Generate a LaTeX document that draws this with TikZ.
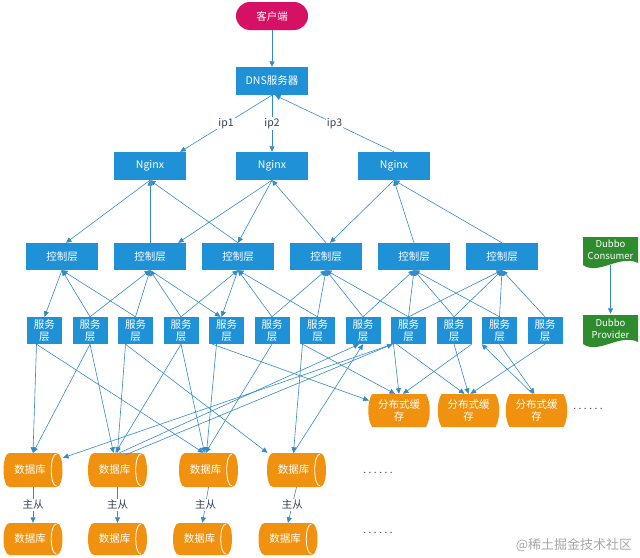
\documentclass[tikz,border=0pt]{standalone}
\usepackage{fontspec}
\newfontfamily\cjk{Noto Sans CJK SC}
\usetikzlibrary{arrows.meta,calc}
\definecolor{nodeblue}{RGB}{30,145,215}
\definecolor{lineblue}{RGB}{50,138,200}
\definecolor{pinkc}{RGB}{214,16,100}
\definecolor{dgreen}{RGB}{46,140,46}
\definecolor{orng}{RGB}{240,146,16}
\definecolor{lbltext}{RGB}{55,65,85}
\newcommand{\dbshape}[3]{% x, y, half height
  \fill[orng] ({#1-23.5},{#2-#3}) -- ({#1+23.5},{#2-#3})
     .. controls ({#1+31.5},{#2-#3}) and ({#1+31.5},{#2+#3}) .. ({#1+23.5},{#2+#3})
     -- ({#1-23.5},{#2+#3})
     .. controls ({#1-31.5},{#2+#3}) and ({#1-31.5},{#2-#3}) .. ({#1-23.5},{#2-#3}) -- cycle;
  \draw[white,line width=0.8pt] ({#1+23.5},{#2-#3+1})
     .. controls ({#1+16.5},{#2-#3+1}) and ({#1+16.5},{#2+#3-1}) .. ({#1+23.5},{#2+#3-1});
}
\begin{document}
\begin{tikzpicture}[x=1pt,y=-1pt,
  every node/.style={font=\cjk\fontsize{10.5}{12.5}\selectfont},
  bluebox/.style={fill=nodeblue,text=white,minimum width=72pt,minimum height=28pt,inner sep=0pt},
  ctrlbox/.style={bluebox,minimum height=27pt},
  svcbox/.style={fill=nodeblue,text=white,minimum width=35pt,minimum height=27pt,inner sep=0pt,align=center,font=\cjk\fontsize{10.5}{11.5}\selectfont},
  dbnode/.style={text=white,minimum width=59pt,minimum height=34pt,inner sep=0pt},
  cachenode/.style={text=white,minimum width=54pt,minimum height=33pt,inner sep=0pt,align=center,font=\cjk\fontsize{10.5}{12.5}\selectfont},
  dubbonode/.style={text=white,minimum width=55pt,minimum height=30pt,inner sep=0pt,align=center,font=\cjk\fontsize{9.5}{12}\selectfont},
  lbl/.style={fill=white,text=lbltext,inner sep=1pt},
  dotlbl/.style={text=lbltext,font=\cjk\fontsize{10}{12}\selectfont\addfontfeature{LetterSpace=25}},
  edge/.style={draw=lineblue,line width=0.6pt,-{Triangle[length=5.5pt,width=5pt]}}
]
\useasboundingbox (0,0) rectangle (640,557);

% top nodes
\node[fill=pinkc,text=white,minimum width=72pt,minimum height=28pt,inner sep=0pt,rounded corners=14pt] (cl) at (272,16) {客户端};
\node[bluebox] (dns) at (272,81) {DNS服务器};
\node[bluebox] (ng1) at (150,166) {Nginx};
\node[bluebox] (ng2) at (272,166) {Nginx};
\node[bluebox] (ng3) at (394,166) {Nginx};

% control layer
\foreach \i/\x in {1/62,2/150,3/238,4/326,5/414,6/502}
  \node[ctrlbox] (c\i) at (\x,256.5) {控制层};

% service layer
\foreach \i/\x in {1/44.5,2/90,3/135.5,4/181,5/226.5,6/272,7/317.5,8/363,9/408.5,10/454,11/499.5,12/545}
  \node[svcbox] (s\i) at (\x,330.5) {服务\\层};

% caches
\foreach \i/\x in {1/399,2/468.5,3/536.5}{
  \fill[orng] ({\x-27},394) .. controls ({\x-32},402) and ({\x-32},419) .. ({\x-27},427)
     -- ({\x+27},427) .. controls ({\x+32},419) and ({\x+32},402) .. ({\x+27},394) -- cycle;
  \node[cachenode] (k\i) at (\x,410.5) {分布式缓\\存};
}

% databases
\foreach \i/\x in {1/33,2/117.5,3/208.5,4/296.5}{
  \dbshape{\x}{470}{17}
  \node[dbnode] (d\i) at (\x,470) {\hspace*{-6pt}数据库};
}
\foreach \i/\x in {1/33,2/117.5,3/202.5,4/288}{
  \dbshape{\x}{539}{16}
  \node[dbnode,minimum height=32pt] (e\i) at (\x,539) {\hspace*{-6pt}数据库};
}

% dubbo
\fill[dgreen] (583,237) -- (583,265) .. controls (598,276) and (620,254) .. (638,263) -- (638,237) -- cycle;
\node[dubbonode] (dc) at (610.5,250) {Dubbo\\Consumer};
\fill[dgreen] (583,315) -- (583,344) .. controls (598,355) and (620,333) .. (638,342) -- (638,315) -- cycle;
\node[dubbonode] (dp) at (610.5,329) {Dubbo\\Provider};
\draw[edge] (dc.south) -- (dp.north);

% dots and watermark
\node[dotlbl] (dt1) at (588,409) {......};
\node[dotlbl] (dt2) at (378,473) {......};
\node[dotlbl] (dt3) at (378,533) {......};
\node[text=black!35,font=\cjk\fontsize{13}{15}\selectfont] (wm) at (574,545) {@稀土掘金技术社区};

% top edges
\draw[edge] (cl.south) -- (dns.north);
\draw[edge] (dns.south) -- node[lbl]{ip1} ($(ng1.north east)+(-6,0)$);
\draw[edge] (dns.south) -- node[lbl]{ip2} (ng2.north);
\draw[edge] (ng3.north) -- node[lbl]{ip3} ($(dns.south)+(3,0)$);

% nginx - control
\draw[edge] (ng1.south) -- ($(c1.north)+(4,0)$);
\draw[edge] (c2.north) -- (ng1.south);
\draw[edge] (c3.north) -- (ng1.south);
\draw[edge] (ng2.south) -- ($(c2.north east)+(-8,0)$);
\draw[edge] (ng2.south) -- (c3.north);
\draw[edge] (c4.north) -- (ng2.south);
\draw[edge] (ng3.south) -- ($(c4.north)+(4,0)$);
\draw[edge] (c5.north) -- (ng3.south);
\draw[edge] (c6.north) -- (ng3.south);

% control - service
\foreach \sv/\cv in {s2/c1,s3/c1,s2/c2,s3/c2,s4/c2,s4/c3,s6/c3,s7/c3,s6/c4,s7/c4,s8/c4,s9/c4,s8/c5,s9/c5,s10/c5,s11/c5,s9/c6,s10/c6,s11/c6,s12/c6}
  \draw[edge] (\sv.north) -- (\cv.south);
\draw[edge] (c1.south) -- (s1.north);
\draw[edge] (c2.south) -- ($(s5.north)+(-6,0)$);
\draw[edge] (c3.south) -- ($(s5.north)+(-5,0)$);

% service - database / cache
\draw[edge] ($(s1.south)+(-8,0)$) -- (d1.north);
\draw[edge] ($(s1.south)+(-8,0)$) -- ($(d3.north)+(-5,0)$);
\draw[edge] (s2.south) -- (d1.north);
\draw[edge] (s2.south) -- ($(d2.north)+(-4,0)$);
\draw[edge] ($(s3.south)+(-10,0)$) -- (d2.north);
\draw[edge] ($(s3.south)+(-10,0)$) -- ($(d4.north)+(-29,0)$);
\draw[edge] (s4.south) -- ($(d2.north)+(-2,0)$);
\draw[edge] (s4.south) -- ($(d3.north)+(-4,0)$);
\draw[edge] ($(s5.south)+(-10,0)$) -- ($(d3.north)+(-2,0)$);
\draw[edge] ($(s5.south)+(-14,0)$) -- ($(k1.west)+(-3,-10)$);
\draw[edge] (s6.south) -- ($(d3.north)+(-3,0)$);
\draw[edge] ($(s7.south)+(-15,0)$) -- ($(d4.north)+(-3,0)$);
\draw[edge] ($(s7.south)+(-15,0)$) -- ($(k1.north)+(-4,0)$);
\draw[edge] ($(d4.north)+(-3,0)$) -- (s8.south);
\draw[edge] ($(d2.north)+(2,0)$) -- ($(s8.south)+(-4,0)$);
\draw[edge] ($(d2.north)+(8,2)$) -- ($(s9.south)+(-16,0)$);
\draw[edge] ($(s9.south)+(-16,0)$) -- ($(d1.north)+(30,5)$);
\draw[edge] ($(s9.south)+(-15,0)$) -- (k1.north);
\draw[edge] (s10.south east) -- ($(k1.north)+(4,0)$);
\draw[edge] ($(s9.south)+(-12,0)$) -- ($(k2.north)+(-4,0)$);
\draw[edge] (s10.south) -- (k2.north);
\draw[edge] (s12.south) -- ($(k2.north)+(2,0)$);
\draw[edge] (s11.south) -- ($(k3.north)+(-2,0)$);
\draw[edge] ($(k3.north)+(-4,0)$) -- (s11.south west);

% master-slave
\foreach \i in {1,2,3,4}
  \draw[edge] (d\i.south) -- node[lbl]{主从} (e\i.north);
\end{tikzpicture}
\end{document}
